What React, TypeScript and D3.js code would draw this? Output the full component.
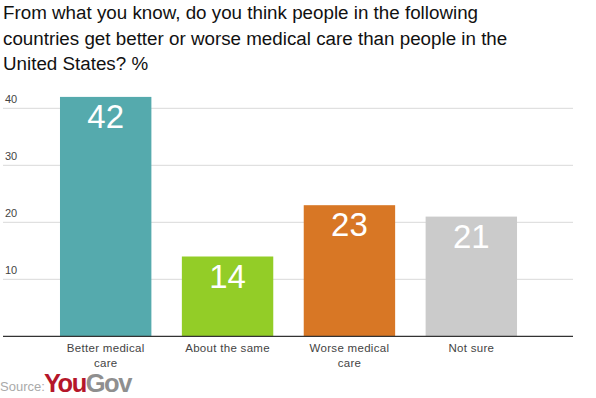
import React from "react";
import * as d3 from "d3";

const categories = ["Better medical care", "About the same", "Worse medical care", "Not sure"];
const labelLines = [["Better medical", "care"], ["About the same"], ["Worse medical", "care"], ["Not sure"]];
const values = [42, 14, 23, 21];
const colors = ["#55aaad", "#93cd27", "#d87725", "#cbcbcb"];
const yTicks = [10, 20, 30, 40];
const titleLines = [
  "From what you know, do you think people in the following",
  "countries get better or worse medical care than people in the",
  "United States? %",
];

const W = 596;
const H = 398;

export default function App() {
  const x = d3
    .scaleBand()
    .domain(categories)
    .range([44.75, 532.25])
    .paddingInner(0.25)
    .paddingOuter(0.125);
  const y = d3.scaleLinear().domain([0, 40]).range([336.3, 108.3]);

  return (
    <svg
      width={W}
      height={H}
      style={{ position: "absolute", left: 0, top: 0, background: "#fff" }}
      fontFamily="'Liberation Sans', Arial, sans-serif"
    >
      {titleLines.map((t, i) => (
        <text key={i} x={3} y={19 + i * 25.5} fontSize={18.8} fill="#111">
          {t}
        </text>
      ))}

      {/* grid + ticks */}
      {yTicks.map(t => (
        <g key={t}>
          <line x1={3} x2={573} y1={y(t)} y2={y(t)} stroke="#d9d9d9" strokeWidth={1} />
          <text x={5} y={y(t) - 5} fontSize={11} fill="#444">
            {t}
          </text>
        </g>
      ))}

      {categories.map((c, i) => {
        const x0 = x(c)!;
        const bw = x.bandwidth();
        return (
          <g key={c}>
            <rect x={x0} y={y(values[i])} width={bw} height={y(0) - y(values[i])} fill={colors[i]} />
            <text
              x={x0 + bw / 2}
              y={y(values[i]) + 31}
              textAnchor="middle"
              fontSize={33}
              fill="#fff"
            >
              {values[i]}
            </text>
            {labelLines[i].map((l, j) => (
              <text
                key={j}
                x={x0 + bw / 2}
                y={352 + j * 14.5}
                textAnchor="middle"
                fontSize={11.5}
                letterSpacing={0.3}
                fill="#444"
              >
                {l}
              </text>
            ))}
          </g>
        );
      })}

      <line x1={3} x2={573} y1={y(0)} y2={y(0)} stroke="#333" strokeWidth={1.3} />

      <text x={0} y={391} fontSize={13} fill="#aaa">
        Source:
      </text>
      <text x={44} y={391.5} fontSize={25.5} fontWeight="bold" letterSpacing={-1.5}>
        <tspan fill="#b5162a">You</tspan>
        <tspan fill="#8f8f8f">Gov</tspan>
      </text>
    </svg>
  );
}
